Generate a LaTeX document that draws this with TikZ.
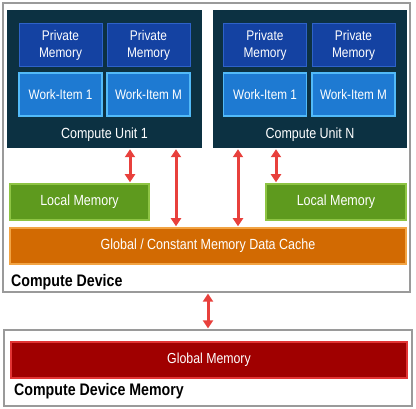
\documentclass[tikz,border=0pt]{standalone}
\usepackage{fontspec}
\setmainfont{Liberation Sans}[FakeStretch=0.85]
\usetikzlibrary{arrows.meta}
\definecolor{cudark}{HTML}{0C3142}
\definecolor{pmfill}{HTML}{1442A2}
\definecolor{pmedge}{HTML}{2E62C8}
\definecolor{wifill}{HTML}{1E7AD2}
\definecolor{wiedge}{HTML}{52BAF8}
\definecolor{lmfill}{HTML}{5E9A1E}
\definecolor{lmedge}{HTML}{8EC444}
\definecolor{cafill}{HTML}{D26A02}
\definecolor{caedge}{HTML}{F2A444}
\definecolor{gmfill}{HTML}{A00000}
\definecolor{gmedge}{HTML}{E23434}
\definecolor{arrred}{HTML}{E8403C}
\definecolor{frame}{HTML}{9A9A9A}
\tikzset{
  box/.style={rectangle, inner sep=0pt, anchor=center},
  outerbox/.style={box, draw=frame, line width=1.3pt, fill=white},
  cubox/.style={box, fill=cudark},
  pmbox/.style={box, fill=pmfill, draw=pmedge, line width=1pt, minimum width=83pt, minimum height=43pt,
    text=white, align=center, font=\fontsize{14}{16.5}\selectfont},
  wibox/.style={box, fill=wifill, draw=wiedge, line width=1.5pt, minimum width=83pt, minimum height=43pt,
    text=white, font=\fontsize{13.8}{16}\selectfont},
  lmbox/.style={box, fill=lmfill, draw=lmedge, line width=1.5pt, minimum height=36pt,
    text=white, font=\fontsize{14.7}{17}\selectfont},
  cabox/.style={box, fill=cafill, draw=caedge, line width=1.5pt, minimum height=36pt,
    text=white, font=\fontsize{14.7}{17}\selectfont},
  gmbox/.style={box, fill=gmfill, draw=gmedge, line width=1.5pt, minimum height=36pt,
    text=white, font=\fontsize{14.5}{17}\selectfont},
  culabel/.style={text=white, font=\fontsize{14.7}{17}\selectfont, inner sep=0pt},
  devlabel/.style={text=black, font=\bfseries\fontsize{16.7}{19}\selectfont, inner sep=0pt, anchor=west},
  arr/.style={draw=arrred, line width=3pt, {Triangle[width=10pt,length=8pt]}-{Triangle[width=10pt,length=8pt]}, shorten <=1pt, shorten >=1pt}
}
\begin{document}
\begin{tikzpicture}[x=1pt,y=-1pt]
\useasboundingbox (0,0) rectangle (416,409);
% compute device
\node[outerbox, minimum width=407pt, minimum height=289pt] (dev) at (206.5,147.5) {};
\node[cubox, minimum width=195pt, minimum height=138pt] (cu1) at (104.5,79) {};
\node[cubox, minimum width=194pt, minimum height=138pt] (cuN) at (310,79) {};
\node[pmbox] (pm11) at (60.5,45.5) {Private\\Memory};
\node[pmbox] (pm12) at (148.5,45.5) {Private\\Memory};
\node[wibox] (wi11) at (60.5,94.5) {Work-Item 1};
\node[wibox] (wi12) at (148.5,94.5) {Work-Item M};
\node[culabel] (cu1l) at (104.5,134.5) {Compute Unit 1};
\node[pmbox] (pmN1) at (265,45.5) {Private\\Memory};
\node[pmbox] (pmN2) at (353.5,45.5) {Private\\Memory};
\node[wibox] (wiN1) at (265,94.5) {Work-Item 1};
\node[wibox] (wiN2) at (353.5,94.5) {Work-Item M};
\node[culabel] (cuNl) at (310,134.5) {Compute Unit N};
\node[lmbox, minimum width=139pt] (lm1) at (79.5,202) {Local Memory};
\node[lmbox, minimum width=140pt] (lm2) at (336,202) {Local Memory};
\node[cabox, minimum width=396pt] (cache) at (208,246) {Global / Constant Memory Data Cache};
\node[devlabel] (devl) at (11,282) {Compute Device};
% device memory
\node[outerbox, minimum width=408pt, minimum height=76pt] (mem) at (208,368) {};
\node[gmbox, minimum width=396pt] (gm) at (209,360) {Global Memory};
\node[devlabel] (meml) at (14,391.5) {Compute Device Memory};
% arrows
\coordinate (xa) at (130,0);
\coordinate (xb) at (176,0);
\coordinate (xc) at (238,0);
\coordinate (xd) at (276,0);
\coordinate (xe) at (208,0);
\draw[arr] (cu1.south -| xa) -- (lm1.north -| xa);
\draw[arr] (cu1.south -| xb) -- (cache.north -| xb);
\draw[arr] (cuN.south -| xc) -- (cache.north -| xc);
\draw[arr] (cuN.south -| xd) -- (lm2.north -| xd);
\draw[arr] (dev.south -| xe) -- (mem.north -| xe);
\end{tikzpicture}
\end{document}
